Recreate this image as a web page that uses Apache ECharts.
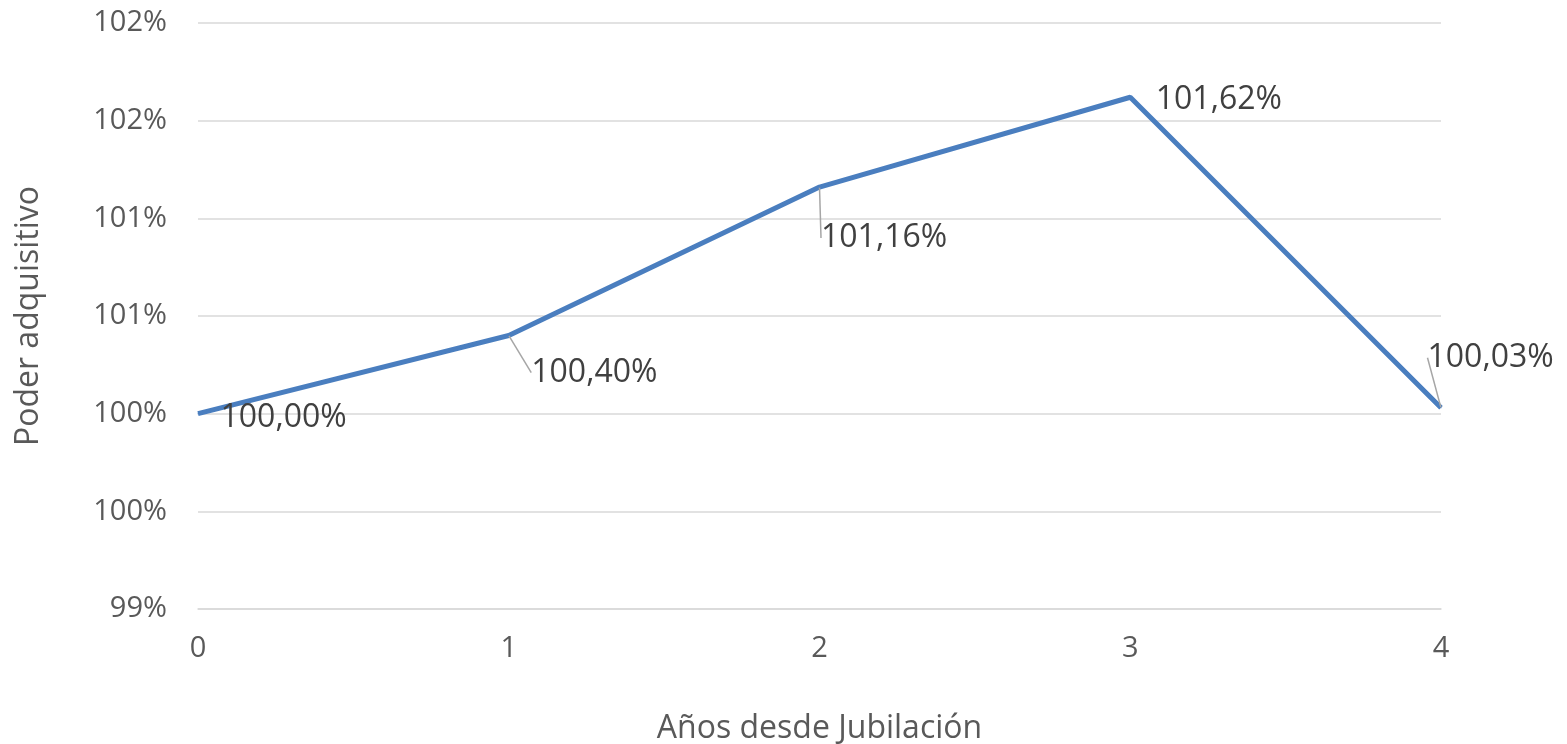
<!DOCTYPE html>
<html>
<head>
<meta charset="utf-8">
<script src="https://cdn.jsdelivr.net/npm/echarts@6/dist/echarts.min.js"></script>
<style>html,body{margin:0;padding:0;background:#fff}#c{width:1567px;height:744px}</style>
</head>
<body>
<div id="c"></div>
<script>
const categories = ['0', '1', '2', '3', '4'];
const values = [100.00, 100.40, 101.16, 101.62, 100.03];
const yTicks = { min: 99, max: 102, interval: 0.5 };
const xName = 'Años desde Jubilación';
const yName = 'Poder adquisitivo';
// label offsets (dx, dy) per point, relative to a right-side label
const labelShift = [[17, 4], [17, 37], [-4, 51], [20, 3], [-19, -50]];
const showLeader = [false, true, true, false, true];

const chart = echarts.init(document.getElementById('c'));
const font = '"Open Sans", "Liberation Sans", sans-serif';
chart.setOption({
  animation: false,
  textStyle: { fontFamily: font },
  grid: { left: 198, right: 126, top: 23, bottom: 135, outerBoundsMode: 'none', containLabel: false },
  xAxis: {
    type: 'category',
    data: categories,
    boundaryGap: false,
    axisLine: { show: true, lineStyle: { color: '#d9d9d9', width: 1.5 } },
    axisTick: { show: false },
    axisLabel: { color: '#595959', fontSize: 29, margin: 25, fontFamily: font },
    name: xName,
    nameLocation: 'middle',
    nameGap: 104,
    nameTextStyle: { color: '#595959', fontSize: 32, fontFamily: font }
  },
  yAxis: {
    type: 'value',
    min: yTicks.min,
    max: yTicks.max,
    interval: yTicks.interval,
    axisLine: { show: false },
    axisTick: { show: false },
    splitLine: { lineStyle: { color: '#d9d9d9', width: 1.5 } },
    axisLabel: {
      color: '#595959', fontSize: 29, margin: 31, fontFamily: font,
      formatter: v => Math.round(v) + '%'
    },
    name: yName,
    nameLocation: 'middle',
    nameGap: 153,
    nameTextStyle: { color: '#595959', fontSize: 32, fontFamily: font }
  },
  series: [{
    type: 'line',
    data: values.map((v, i) => ({ value: v, labelLine: { show: showLeader[i] } })),
    symbol: 'circle',
    symbolSize: 1,
    showSymbol: true,
    lineStyle: { color: '#4a7ebf', width: 5 },
    itemStyle: { color: '#4a7ebf' },
    label: {
      show: true,
      position: 'right',
      distance: 5,
      color: '#404040',
      fontSize: 32,
      fontFamily: font,
      formatter: p => p.value.toFixed(2).replace('.', ',') + '%'
    },
    labelLine: { show: true, lineStyle: { color: '#a6a6a6', width: 1.5 } },
    labelLayout: p => ({ dx: labelShift[p.dataIndex][0], dy: labelShift[p.dataIndex][1] })
  }]
});
</script>
</body>
</html>
